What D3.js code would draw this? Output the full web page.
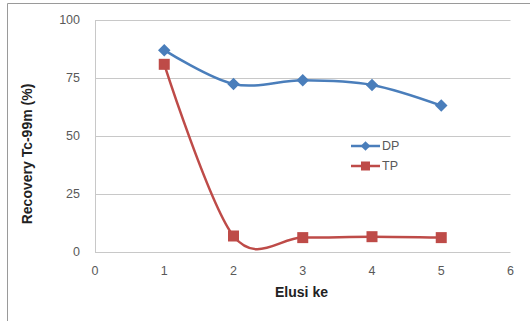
<!DOCTYPE html>
<html><head><meta charset="utf-8">
<script src="https://cdn.jsdelivr.net/npm/d3@7"></script>
<style>body{margin:0;background:#fff}svg{display:block}</style>
</head><body>
<script>
const elusi = [1, 2, 3, 4, 5];
const dpValues = [87, 72.4, 74, 72, 63.1];
const tpValues = [80.9, 6.9, 6.2, 6.6, 6.2];
const xTicks = [0, 1, 2, 3, 4, 5, 6];
const yTicks = [0, 25, 50, 75, 100];
const seriesNames = ["DP", "TP"];

const W = 530, H = 321;
const svg = d3.select("body").append("svg").attr("width", W).attr("height", H);
const font = "'Liberation Sans', Arial, sans-serif";

// outer border (partial, as cropped)
svg.append("line").attr("x1", 7.5).attr("x2", W).attr("y1", 3.5).attr("y2", 3.5).attr("stroke", "#9a9a9a");
svg.append("line").attr("x1", 7.5).attr("x2", 7.5).attr("y1", 3.5).attr("y2", H).attr("stroke", "#9a9a9a");

const x = d3.scaleLinear().domain([0, 6]).range([95, 510.5]);
const y = d3.scaleLinear().domain([0, 100]).range([252, 20]);

// gridlines
svg.append("g").selectAll("line").data(yTicks).join("line")
  .attr("x1", x(0)).attr("x2", x(6))
  .attr("y1", d => Math.round(y(d)) + 0.5).attr("y2", d => Math.round(y(d)) + 0.5)
  .attr("stroke", "#c8c8c8").attr("stroke-width", 1);
// vertical axis line
svg.append("line").attr("x1", Math.round(x(0)) + 0.5).attr("x2", Math.round(x(0)) + 0.5)
  .attr("y1", y(100)).attr("y2", y(0)).attr("stroke", "#c8c8c8");

// y tick labels
svg.append("g").selectAll("text").data(yTicks).join("text")
  .attr("x", 80).attr("y", d => y(d)).attr("dy", "0.35em")
  .attr("text-anchor", "end").attr("font-family", font).attr("font-size", 12.5)
  .attr("fill", "#595959").text(d => d);
// x tick labels
svg.append("g").selectAll("text").data(xTicks).join("text")
  .attr("x", d => x(d)).attr("y", 271).attr("dy", "0.35em")
  .attr("text-anchor", "middle").attr("font-family", font).attr("font-size", 12.5)
  .attr("fill", "#595959").text(d => d);

// axis titles
svg.append("text").attr("x", 301.5).attr("y", 292).attr("dy", "0.35em")
  .attr("text-anchor", "middle").attr("font-family", font).attr("font-size", 14)
  .attr("font-weight", "bold").attr("fill", "#222").text("Elusi ke");
svg.append("text").attr("transform", "translate(27,154) rotate(-90)").attr("dy", "0.35em")
  .attr("text-anchor", "middle").attr("font-family", font).attr("font-size", 14)
  .attr("font-weight", "bold").attr("fill", "#222").text("Recovery Tc-99m (%)");

const line = d3.line().x(d => x(d[0])).y(d => y(d[1])).curve(d3.curveCardinal.tension(0));
const dpData = elusi.map((e, i) => [e, dpValues[i]]);
const tpData = elusi.map((e, i) => [e, tpValues[i]]);
const blue = "#4A7EBB", red = "#BE4B48";

svg.append("path").datum(dpData).attr("d", line).attr("fill", "none").attr("stroke", blue).attr("stroke-width", 2.5);
svg.append("path").datum(tpData).attr("d", line).attr("fill", "none").attr("stroke", red).attr("stroke-width", 2.5);

const diamond = d3.symbol().type(d3.symbolDiamond2).size(100);
svg.append("g").selectAll("path").data(dpData).join("path")
  .attr("transform", d => `translate(${x(d[0])},${y(d[1])})`).attr("d", diamond).attr("fill", blue);
svg.append("g").selectAll("rect").data(tpData).join("rect")
  .attr("x", d => x(d[0]) - 5.5).attr("y", d => y(d[1]) - 5.5).attr("width", 11).attr("height", 11).attr("fill", red);

// legend
const legY = [146, 166];
const colors = [blue, red];
seriesNames.forEach((n, i) => {
  const g = svg.append("g");
  g.append("line").attr("x1", 351).attr("x2", 380).attr("y1", legY[i]).attr("y2", legY[i]).attr("stroke", colors[i]).attr("stroke-width", 2.5);
  if (i === 0) g.append("path").attr("transform", `translate(365.5,${legY[i]})`).attr("d", d3.symbol().type(d3.symbolDiamond2).size(60)).attr("fill", blue);
  else g.append("rect").attr("x", 361).attr("y", legY[i] - 4.5).attr("width", 9).attr("height", 9).attr("fill", red);
  g.append("text").attr("x", 382).attr("y", legY[i]).attr("dy", "0.35em").attr("font-family", font)
    .attr("font-size", 12.5).attr("fill", "#595959").text(n);
});
</script>
</body></html>
